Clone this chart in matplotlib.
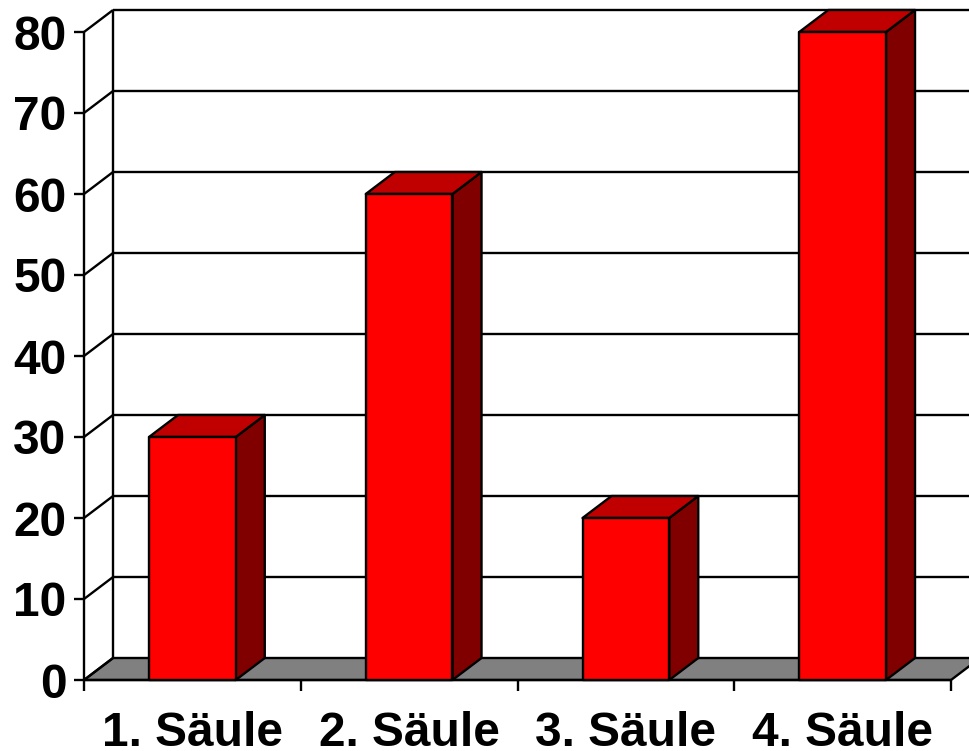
import matplotlib
matplotlib.use("Agg")
import matplotlib.pyplot as plt
from matplotlib.patches import Polygon

plt.rcParams['font.family'] = ['Liberation Sans', 'DejaVu Sans']
plt.rcParams['font.weight'] = 'bold'

categories = ["1. Säule", "2. Säule", "3. Säule", "4. Säule"]
values = [30, 60, 20, 80]
y_ticks = [0, 10, 20, 30, 40, 50, 60, 70, 80]

FRONT = "#FF0000"
TOP = "#C00000"
SIDE = "#800000"
FLOOR = "#808080"
LW = 1.7
BAR_WIDTH = 0.4
# Oblique projection offset of the back wall, in data units
DX = 0.134
DY = 2.716

fig = plt.figure(figsize=(9.69, 7.51), dpi=100, facecolor="white")
ax = fig.add_axes([84 / 969, 71 / 751, 867 / 969, 648 / 751])
ax.set_xlim(0, len(categories))
ax.set_ylim(0, 80)
for spine in ax.spines.values():
    spine.set_visible(False)


def poly(points, color, z):
    ax.add_patch(Polygon(points, closed=True, facecolor=color, edgecolor="black",
                         linewidth=LW, joinstyle="round", clip_on=False, zorder=z))


def line(xs, ys, z=1):
    ax.plot(xs, ys, color="black", linewidth=LW, clip_on=False, zorder=z,
            solid_capstyle="butt")


xmax = len(categories)

# Floor and back wall
poly([(0, 0), (xmax, 0), (xmax + DX, DY), (DX, DY)], FLOOR, 1)
line([DX, DX], [DY, 80 + DY])
line([0, 0], [0, 80])
for v in y_ticks:
    line([0, DX], [v, v + DY])
    if v > 0:
        line([DX, xmax + DX], [v + DY, v + DY])
line([0, xmax], [0, 0], 2)

# Extruded columns
for i, v in enumerate(values):
    x0 = i + 0.5 - BAR_WIDTH / 2
    x1 = x0 + BAR_WIDTH
    z = 3 + i
    poly([(x1, 0), (x1 + DX, DY), (x1 + DX, v + DY), (x1, v)], SIDE, z)
    poly([(x0, v), (x1, v), (x1 + DX, v + DY), (x0 + DX, v + DY)], TOP, z)
    poly([(x0, 0), (x1, 0), (x1, v), (x0, v)], FRONT, z)

# Value axis ticks
ax.set_yticks(y_ticks)
ax.set_yticklabels([str(v) for v in y_ticks], fontsize=34.5, fontweight="bold")
ax.tick_params(axis="y", length=7.5, width=LW, pad=5, color="black")

# Category axis: ticks at the boundaries, labels centred between them
ax.set_xticks(range(xmax + 1))
ax.set_xticklabels([])
ax.set_xticks([i + 0.5 for i in range(xmax)], labels=categories, minor=True,
              fontsize=34.5, fontweight="bold")
ax.tick_params(axis="x", which="major", length=8, width=LW, color="black")
ax.tick_params(axis="x", which="minor", length=0, pad=22)
for label in ax.get_xticklabels(minor=True):
    label.set_x(label.get_position()[0])

fig.savefig("out.png", dpi=100)
